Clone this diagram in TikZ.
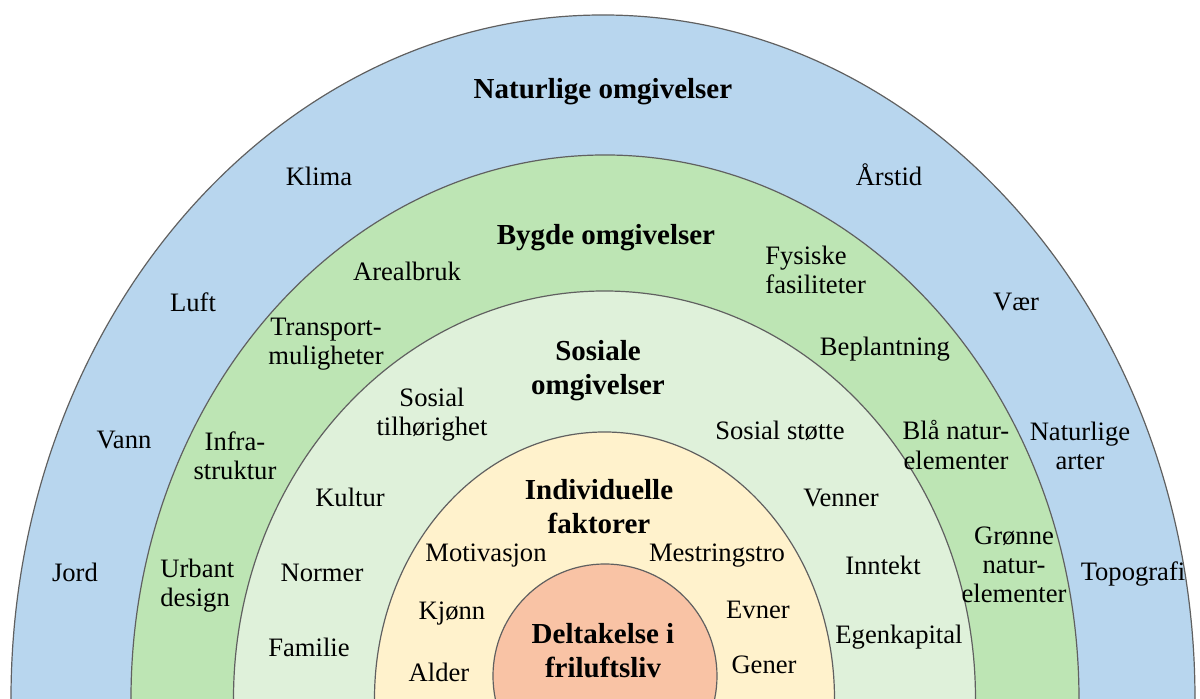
\documentclass[tikz,border=0pt]{standalone}
\usepackage{fontspec}
\setmainfont{Liberation Serif}
\usepackage{xcolor}
\usetikzlibrary{positioning}

\definecolor{ringblue}{HTML}{B8D6EE}
\definecolor{ringgreen}{HTML}{BDE5B4}
\definecolor{ringlight}{HTML}{DFF1DA}
\definecolor{ringyellow}{HTML}{FFF2CC}
\definecolor{ringpeach}{HTML}{F9C3A5}

\begin{document}
\begin{tikzpicture}[
  x=0.5pt, y=0.5pt,
  % one style for the plain factor words, one for the ring titles
  lbl/.style={inner sep=0pt, align=center,
              font=\fontsize{13.3}{14.6}\selectfont},
  ttl/.style={inner sep=0pt, align=center,
              font=\fontsize{14.5}{17}\selectfont\bfseries},
  ring/.style={draw=gray!75!black, line width=0.6pt},
]

\useasboundingbox (-603,0) rectangle (597,699);
\clip (-603,0) rectangle (597,699);

%% ── Rings (outermost first) ───────────────────────────────────────
\foreach \cx/\cy/\rx/\ry/\col in {0/0/592/684/ringblue,
                                  2/0/474/544/ringgreen,
                                  1.5/0/371/408/ringlight,
                                  1.5/0/230/267/ringyellow,
                                  2/23/112/112/ringpeach}
  \path[ring, fill=\col] (\cx,\cy) ellipse [x radius=\rx, y radius=\ry];

%% ── Naturlige omgivelser ──────────────────────────────────────────
\node[ttl] (nat)      at (0,607)    {Naturlige omgivelser};
\node[lbl] (klima)    at (-284,523) {Klima};
\node[lbl] (arstid)   at (286,524)  {Årstid};
\node[lbl] (luft)     at (-410,397) {Luft};
\node[lbl] (vaer)     at (413,397)  {Vær};
\node[lbl] (vann)     at (-479,259) {Vann};
\node[lbl] (arter)    at (477,253)  {Naturlige\\arter};
\node[lbl] (jord)     at (-528,127) {Jord};
\node[lbl] (topo)     at (530,125)  {Topografi};

%% ── Bygde omgivelser ──────────────────────────────────────────────
\node[ttl] (bygd)     at (3,461)    {Bygde omgivelser};
\node[lbl] (areal)    at (-196,428) {Arealbruk};
\node[lbl, align=left, anchor=west]
           (fysisk)   at (162,429)  {Fysiske\\fasiliteter};
\node[lbl] (transp)   at (-277,355) {Transport-\\muligheter};
\node[lbl] (beplant)  at (282,350)  {Beplantning};
\node[lbl] (infra)    at (-368,243) {Infra-\\struktur};
\node[lbl] (bla)      at (353,254)  {Blå natur-\\elementer};
\node[lbl, align=left, anchor=west]
           (urban)    at (-443,113) {Urbant\\design};
\node[lbl] (gronne)   at (411,134)  {Grønne\\natur-\\elementer};

%% ── Sosiale omgivelser ────────────────────────────────────────────
\node[ttl] (sos)      at (-5,328)   {Sosiale\\omgivelser};
\node[lbl] (tilh)     at (-171,284) {Sosial\\tilhørighet};
\node[lbl] (stotte)   at (177,268)  {Sosial støtte};
\node[lbl] (kultur)   at (-253,202) {Kultur};
\node[lbl] (venner)   at (238,201)  {Venner};
\node[lbl] (normer)   at (-281,126) {Normer};
\node[lbl] (inntekt)  at (280,134)  {Inntekt};
\node[lbl] (familie)  at (-294,52)  {Familie};
\node[lbl] (egenk)    at (296,62)   {Egenkapital};

%% ── Individuelle faktorer ─────────────────────────────────────────
\node[ttl] (indiv)    at (-4,192)   {Individuelle\\faktorer};
\node[lbl] (motiv)    at (-117,143) {Motivasjon};
\node[lbl] (mestr)    at (114,143)  {Mestringstro};
\node[lbl] (kjonn)    at (-151,85)  {Kjønn};
\node[lbl] (evner)    at (155,89)   {Evner};
\node[lbl] (alder)    at (-164,27)  {Alder};
\node[lbl] (gener)    at (161,34)   {Gener};

%% ── Kjerne ────────────────────────────────────────────────────────
\node[ttl] (delt)     at (0,48)     {Deltakelse i\\friluftsliv};

\end{tikzpicture}
\end{document}
